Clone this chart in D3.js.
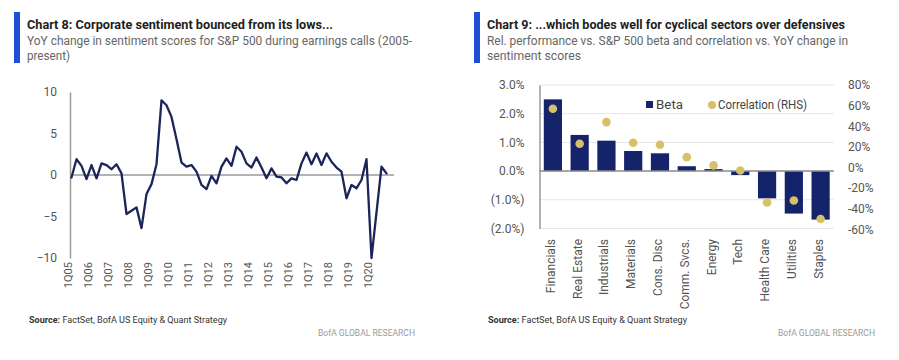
<!DOCTYPE html>
<html><head><meta charset="utf-8">
<script src="https://cdn.jsdelivr.net/npm/d3@7"></script>
<style>body{margin:0;background:#fff;} svg{display:block;font-family:Roboto,"Liberation Sans",Arial,sans-serif;}</style>
</head><body><svg id="c" width="899" height="360"></svg>
<script>
// ---------- Data: Chart 8 ----------
const years = d3.range(2005, 2021);
const quarters = years.flatMap(y => [1, 2, 3, 4].map(q => q + "Q" + String(y).slice(2)));
const sentiment = [
  -0.3, 1.9, 1.1, -0.5, 1.2, -0.4, 1.4, 1.2, 0.7, 1.3, 0.2, -4.7, -4.3, -3.9, -6.4, -2.3,
  -1.1, 1.3, 9.0, 8.4, 7.0, 4.3, 1.5, 1.0, 1.2, 0.4, -1.2, -1.7, -0.1, -1.0, 1.0, 2.0,
  1.1, 3.4, 2.8, 1.4, 0.9, 2.1, 0.9, -0.4, 0.8, -0.2, -0.3, -1.0, -0.4, -0.6, 1.4, 2.7,
  1.3, 2.6, 1.2, 2.6, 1.6, 0.9, 0.4, -2.8, -1.2, -1.6, -0.6, 1.9, -10.0, -4.5, 1.0, 0.2
];
const leftYTicks = [-10, -5, 0, 5, 10];
const leftXTicks = ["1Q05","1Q06","1Q07","1Q08","1Q09","1Q10","1Q11","1Q12","1Q13","1Q14","1Q15","1Q16","1Q17","1Q18","1Q19","1Q20"];

// ---------- Data: Chart 9 ----------
const sectors = ["Financials","Real Estate","Industrials","Materials","Cons. Disc","Comm. Svcs.","Energy","Tech","Health Care","Utilities","Staples"];
const beta = [2.5, 1.26, 1.06, 0.70, 0.62, 0.17, 0.07, -0.14, -0.95, -1.48, -1.69];
const correlation = [57, 23, 44, 24, 22, 10, 2, -3, -34, -32, -50];
const betaTicks = [-2, -1, 0, 1, 2, 3];
const corrTicks = [-60, -40, -20, 0, 20, 40, 60, 80];

const svg = d3.select("#c");
const NAVY = "#14236a", GOLD = "#d8c06a", BLUE = "#1d4fd6";

// ---------- Headers ----------
function header(x0, title, sub1, sub2, tw, s1w, s2w) {
  svg.append("rect").attr("x", x0).attr("y", 12).attr("width", 6).attr("height", 51).attr("fill", BLUE);
  svg.append("text").attr("x", x0 + 13).attr("y", 29).attr("font-size", 13).attr("font-weight", "bold")
    .attr("fill", "#1e1e1e").attr("textLength", tw).attr("lengthAdjust", "spacingAndGlyphs").text(title);
  svg.append("text").attr("x", x0 + 13).attr("y", 45).attr("font-size", 12).attr("fill", "#666")
    .attr("textLength", s1w).attr("lengthAdjust", "spacingAndGlyphs").text(sub1);
  svg.append("text").attr("x", x0 + 13).attr("y", 60).attr("font-size", 12).attr("fill", "#666")
    .attr("textLength", s2w).attr("lengthAdjust", "spacingAndGlyphs").text(sub2);
}
header(14, "Chart 8: Corporate sentiment bounced from its lows...",
  "YoY change in sentiment scores for S&P 500 during earnings calls (2005-", "present)", 306, 385, 43);
header(474, "Chart 9: ...which bodes well for cyclical sectors over defensives",
  "Rel. performance vs. S&P 500 beta and correlation vs. YoY change in", "sentiment scores", 358, 361, 94);

// ---------- Footers ----------
function footer(x, w, x2) {
  const t = svg.append("text").attr("x", x).attr("y", 323).attr("font-size", 9).attr("fill", "#333")
    .attr("textLength", w).attr("lengthAdjust", "spacingAndGlyphs");
  t.append("tspan").attr("font-weight", "bold").text("Source:");
  t.append("tspan").text(" FactSet, BofA US Equity & Quant Strategy");
  svg.append("text").attr("x", x2).attr("y", 336).attr("font-size", 8.5).attr("fill", "#9a9a9a")
    .attr("textLength", 97).attr("lengthAdjust", "spacingAndGlyphs").text("BofA GLOBAL RESEARCH");
}
footer(29, 198, 318);
footer(488, 199, 778);

// ---------- Chart 8 ----------
const xL = d3.scalePoint(quarters, [71.5, 386.5]);
const yL = d3.scaleLinear([-10, 10], [258, 92]);

const gyL = svg.append("g").attr("transform", "translate(70,0)")
  .call(d3.axisLeft(yL).tickValues(leftYTicks).tickSize(0).tickPadding(13));
gyL.select(".domain").attr("stroke", "#9a9a9a").attr("stroke-width", 1.5);
gyL.selectAll("text").attr("font-size", 12).attr("fill", "#555").attr("font-family", "Roboto,Arial,sans-serif");

svg.append("line").attr("x1", 70).attr("x2", 394).attr("y1", yL(0)).attr("y2", yL(0))
  .attr("stroke", "#9a9a9a").attr("stroke-width", 1.5);

svg.append("g").selectAll("text").data(leftXTicks).join("text")
  .attr("transform", d => `translate(${xL(d)},262) rotate(-90)`)
  .attr("text-anchor", "end").attr("font-size", 11).attr("fill", "#555").text(d => d);

svg.append("path").datum(sentiment)
  .attr("d", d3.line().x((d, i) => xL(quarters[i])).y(d => yL(d)))
  .attr("fill", "none").attr("stroke", "#1b2559").attr("stroke-width", 2.3)
  .attr("stroke-linejoin", "round").attr("stroke-linecap", "round");

// ---------- Chart 9 ----------
const xR = d3.scaleBand(sectors, [539.5, 834]).paddingInner(0.32).paddingOuter(0.16);
const yR = d3.scaleLinear([-2, 3], [228.5, 85]);
const yC = d3.scaleLinear([-60, 80], [229.3, 85]);

svg.append("g").selectAll("line").data(betaTicks.filter(d => d !== 0)).join("line")
  .attr("x1", 539.5).attr("x2", 834).attr("y1", d => yR(d)).attr("y2", d => yR(d))
  .attr("stroke", "#e6e6e6").attr("stroke-width", 1);

const gyR = svg.append("g").attr("transform", "translate(539.5,0)")
  .call(d3.axisLeft(yR).tickValues(betaTicks).tickSize(0).tickPadding(15)
    .tickFormat(v => v < 0 ? `(${Math.abs(v).toFixed(1)}%)` : v.toFixed(1) + "%"));
gyR.select(".domain").attr("stroke", "#9a9a9a").attr("stroke-width", 1.5);
gyR.selectAll("text").attr("font-size", 12).attr("fill", "#555").attr("font-family", "Roboto,Arial,sans-serif");

const gyC = svg.append("g").attr("transform", "translate(834,0)")
  .call(d3.axisRight(yC).tickValues(corrTicks).tickSize(0).tickPadding(14).tickFormat(v => v + "%"));
gyC.select(".domain").remove();
gyC.selectAll("text").attr("font-size", 12).attr("fill", "#555").attr("font-family", "Roboto,Arial,sans-serif");

svg.append("g").selectAll("rect").data(sectors).join("rect")
  .attr("x", d => xR(d)).attr("width", xR.bandwidth())
  .attr("y", (d, i) => yR(Math.max(0, beta[i])))
  .attr("height", (d, i) => Math.abs(yR(beta[i]) - yR(0)))
  .attr("fill", NAVY);

svg.append("line").attr("x1", 539.5).attr("x2", 834).attr("y1", yR(0)).attr("y2", yR(0))
  .attr("stroke", "#8a8a8a").attr("stroke-width", 1.5);

svg.append("g").selectAll("circle").data(sectors).join("circle")
  .attr("cx", d => xR(d) + xR.bandwidth() / 2)
  .attr("cy", (d, i) => yC(correlation[i]))
  .attr("r", 4.3).attr("fill", GOLD);

svg.append("g").selectAll("text").data(sectors).join("text")
  .attr("transform", d => `translate(${xR(d) + xR.bandwidth() / 2 + 2},239) rotate(-90)`)
  .attr("text-anchor", "end").attr("font-size", 12).attr("fill", "#555").text(d => d);

// Legend
svg.append("rect").attr("x", 646).attr("y", 101).attr("width", 7).attr("height", 7).attr("fill", NAVY);
svg.append("text").attr("x", 656).attr("y", 109).attr("font-size", 12).attr("fill", "#444")
  .attr("textLength", 27).attr("lengthAdjust", "spacingAndGlyphs").text("Beta");
svg.append("circle").attr("cx", 712).attr("cy", 105).attr("r", 4).attr("fill", GOLD);
svg.append("text").attr("x", 718).attr("y", 109).attr("font-size", 12).attr("fill", "#444")
  .attr("textLength", 89).attr("lengthAdjust", "spacingAndGlyphs").text("Correlation (RHS)");
</script></body></html>
